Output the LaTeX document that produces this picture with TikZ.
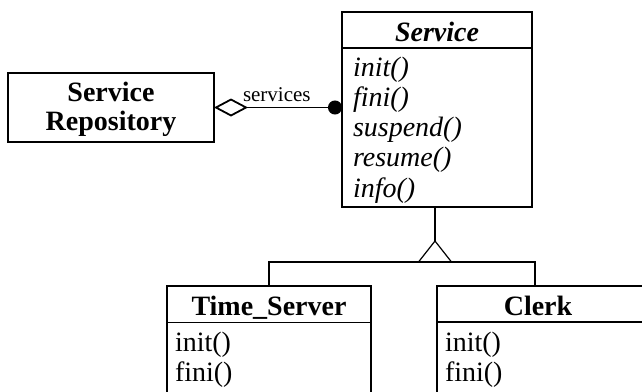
\documentclass[tikz,border=0pt]{standalone}
\usepackage{fontspec}
\setmainfont{Liberation Serif}
\usetikzlibrary{arrows.meta}
\begin{document}
\begin{tikzpicture}[x=1pt,y=-1pt,
  classbox/.style={draw, line width=1.4pt, inner sep=0pt, outer sep=0pt, anchor=north west},
  txt/.style={font=\fontsize{28}{30}\selectfont, inner sep=0pt, outer sep=0pt},
  title/.style={txt, font=\fontsize{28}{30}\selectfont\bfseries, anchor=base},
  optitle/.style={txt, font=\fontsize{28}{30}\selectfont\bfseries\itshape, anchor=base},
  op/.style={txt, anchor=base west},
  abstractop/.style={txt, font=\fontsize{28}{30}\selectfont\itshape, anchor=base west},
  divider/.style={line width=1.4pt},
  link/.style={line width=1.2pt},
  assoc/.style={line width=1.8pt}
]
\useasboundingbox (0,0) rectangle (642,391);
\clip (0,0) rectangle (642,391);

% class boxes (the two subclasses run past the lower and right edges)
\node[classbox, minimum width=190pt, minimum height=195pt] (svc)   at (342,12)  {};
\node[classbox, minimum width=206pt, minimum height=69pt]  (repo)  at (8,73)    {};
\node[classbox, minimum width=204pt, minimum height=130pt] (ts)    at (167,286) {};
\node[classbox, minimum width=215pt, minimum height=130pt] (clerk) at (437,286) {};

% compartment dividers
\draw[divider] ([yshift=-36pt]svc.north west) -- ([yshift=-36pt]svc.north east);
\draw[divider] ([yshift=-36.5pt]ts.north west) -- ([yshift=-36.5pt]ts.north east);
\draw[divider] ([yshift=-36pt]clerk.north west) -- ([yshift=-36pt]clerk.north east);

% Service
\node[optitle] (svcname) at (437,41) {Service};
\node[abstractop] (s1) at (353,76)     {init()};
\node[abstractop] (s2) at (353,106.25) {fini()};
\node[abstractop] (s3) at (353,136.5)  {suspend()};
\node[abstractop] (s4) at (353,166.75) {resume()};
\node[abstractop] (s5) at (353,197)    {info()};

% Service Repository
\node[title] (repo1) at (111,101) {Service};
\node[title] (repo2) at (111,130) {Repository};

% Time_Server
\node[title] (tsname) at (269,315) {Time\_Server};
\node[op] (t1) at (175,351) {init()};
\node[op] (t2) at (175,381) {fini()};

% Clerk
\node[title] (clerkname) at (538,315) {Clerk};
\node[op] (c1) at (445,351) {init()};
\node[op] (c2) at (445,381) {fini()};

% aggregation: Service Repository holds services
\draw[assoc, {Diamond[open,length=34pt,width=18pt]}-{Circle[length=14pt]}]
  (repo.east) -- (repo.east -| svc.west);
\node[txt, font=\fontsize{21}{21}\selectfont, anchor=base west] (role) at (243,101) {services};

% generalization
\coordinate (bar) at (435,262);
\coordinate (apex) at (435,241);
\coordinate (cj) at (535,286);
\draw[link] (bar |- svc.south) -- (apex);
\draw[link] (apex) -- ([xshift=-16.5pt]bar) -- ([xshift=16.5pt]bar) -- cycle;
\draw[link] (ts.north) |- (bar);
\draw[link] (cj) |- (bar);
\end{tikzpicture}
\end{document}
